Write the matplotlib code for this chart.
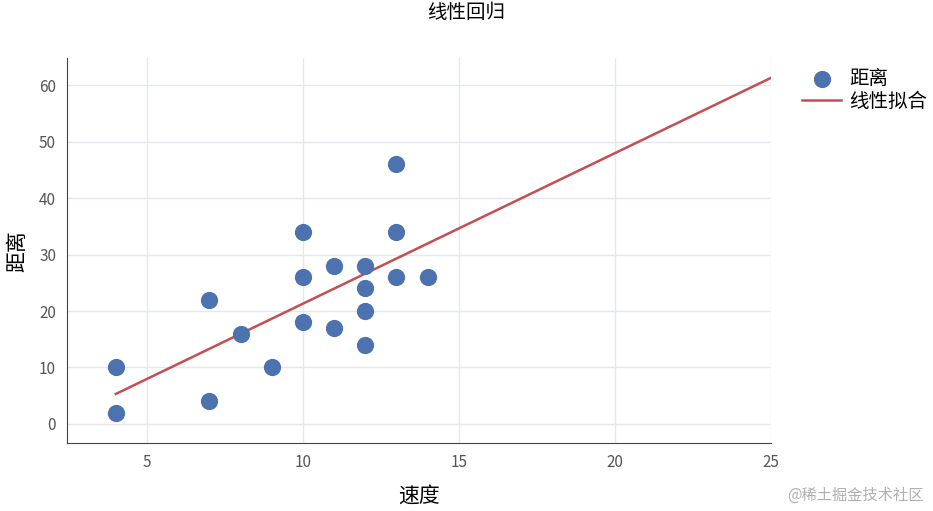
import matplotlib
matplotlib.use('Agg')
import matplotlib.pyplot as plt

plt.rcParams['font.family'] = ['Noto Sans CJK SC', 'DejaVu Sans']

speed = [4, 4, 7, 7, 8, 9, 10, 10, 10, 11, 11, 12, 12, 12, 12, 13, 13, 13, 14]
dist = [10, 2, 22, 4, 16, 10, 34, 26, 18, 28, 17, 28, 24, 20, 14, 46, 34, 26, 26]
fit_x = [4, 25]
fit_y = [5.3, 61.3]

fig = plt.figure(figsize=(9.33, 5.11), dpi=100)
ax = fig.add_axes([0.072, 0.133, 0.754, 0.753])
ax.scatter(speed, dist, s=130, color='#4c72b0', zorder=3, label='距离')
ax.plot(fit_x, fit_y, color='#c44e52', lw=1.8, zorder=2, label='线性拟合')

ax.set_xlim(2.44, 25)
ax.set_ylim(-3.4, 64.8)
ax.set_xticks([5, 10, 15, 20, 25])
ax.set_yticks(range(0, 61, 10))
ax.grid(color='#e5e6ef', lw=1)
ax.set_axisbelow(True)
for s in ['top', 'right']:
    ax.spines[s].set_visible(False)
for s in ['left', 'bottom']:
    ax.spines[s].set_color('#444444')
ax.tick_params(colors='#555555', labelsize=11, length=0, pad=8)
ax.set_xlabel('速度', fontsize=15, labelpad=10)
ax.set_ylabel('距离', fontsize=15, labelpad=8)
fig.text(0.5, 0.975, '线性回归', ha='center', va='center', fontsize=14)
ax.legend(loc='upper left', bbox_to_anchor=(1.02, 1.02), frameon=False,
          fontsize=14, handlelength=2, handletextpad=0.4, labelspacing=0.1)
fig.text(0.99, 0.03, '@稀土掘金技术社区', ha='right', va='center', fontsize=11, color='#b0b0b0')
fig.savefig('out.png', dpi=100)
